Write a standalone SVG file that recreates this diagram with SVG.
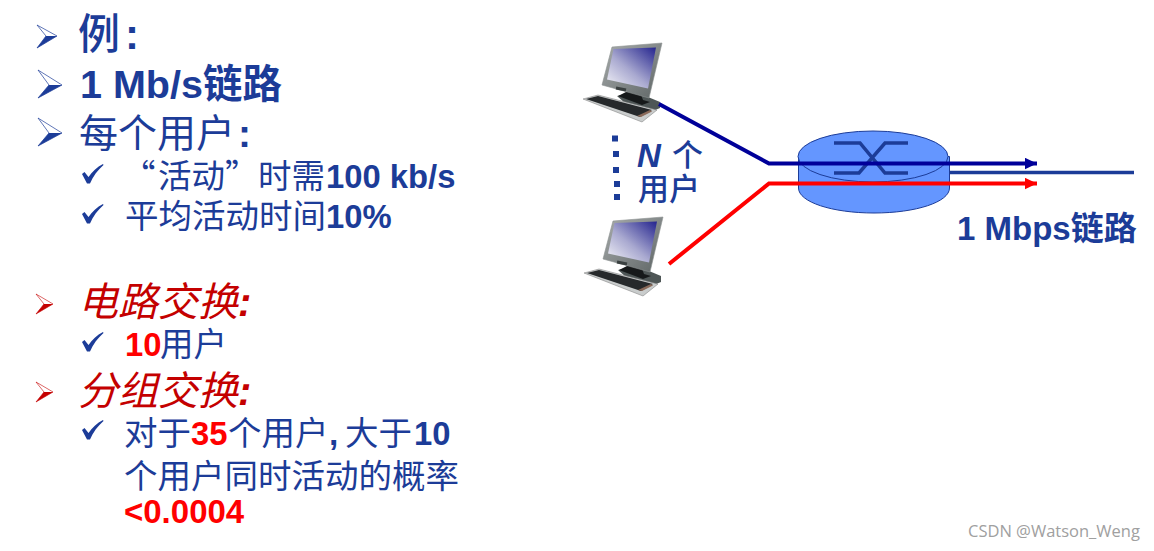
<svg xmlns="http://www.w3.org/2000/svg" xmlns:xlink="http://www.w3.org/1999/xlink" width="1154" height="551" viewBox="0 0 1154 551">
<style>
text{font-family:"Noto Sans CJK SC","Noto Sans",sans-serif;fill:#1c3c98;white-space:pre}
.b{font-family:"Liberation Sans","Noto Sans CJK SC",sans-serif;font-weight:700}
.m{font-weight:500}
.red{fill:#f00}
.dred{fill:#c40000;font-style:italic}
.s39{font-size:39px}
.s33{font-size:33.5px}
.l33{font-size:32.8px}
.s40{font-size:40px}
.conn{fill:none;stroke-width:4;stroke-linejoin:miter}
</style>
<defs>
<linearGradient id="scr" x1="1" y1="0" x2="0" y2="1"><stop offset="0" stop-color="#24248e"/><stop offset=".55" stop-color="#a9a9d0"/><stop offset="1" stop-color="#f4f4f8"/></linearGradient>
<linearGradient id="case" x1="0" y1="0" x2="1" y2="1"><stop offset="0" stop-color="#a9adad"/><stop offset="1" stop-color="#5f6666"/></linearGradient>
<marker id="ab" markerUnits="userSpaceOnUse" markerWidth="13" markerHeight="12" refX="12" refY="6" orient="auto"><path d="M0 .3L12 6L0 11.7Z" fill="#000099"/></marker>
<marker id="ar" markerUnits="userSpaceOnUse" markerWidth="13" markerHeight="12" refX="12" refY="6" orient="auto"><path d="M0 .3L12 6L0 11.7Z" fill="#f00"/></marker>
<path id="chk" d="M0 10L2.500 8L6.500 13C10 8 15 3 21 0L21.500 1C16 6 11 12 8 19.500L5 19.500Z" fill="#1c3c98"/>
<g id="pc">
<path d="M617 96L636 92L660 102L660 108L648 113L625 103Z" fill="#4e5656"/>
<path d="M618 96L630 90L640 92L643 100L650 102L642 105Z" fill="#16191a"/>
<path d="M612 47L662 43L649 98L602 85Z" fill="url(#case)" stroke="#8b9090" stroke-width=".6"/>
<path d="M613.500 49L656 47.500L648 88.500L607 79.500Z" fill="url(#scr)"/>
<path d="M616 88L626 90" stroke="#3a4040" stroke-width="3" fill="none"/>
<path d="M583 99L598 95L657 110L642 122Z" fill="#c9cccc" stroke="#777" stroke-width=".5"/>
<path d="M586 99L598 96L652 110L640 117Z" fill="#26292b"/>
<path d="M637 116L650 110L652 111.500L641 117Z" fill="#8a6a5a"/>
</g>
</defs>
<rect width="1154" height="551" fill="#fff"/>

<g id="bullets" fill="#1c3c98">
<g id="b1"><path d="M37 25L57 36L37 48L46 36Z" fill="#fff" stroke="#1c3c98" stroke-width=".7"/><path d="M46 36H57L37 48Z"/></g>
<g id="b2"><path d="M38 70L62 85L38 98L49 85Z" fill="#fff" stroke="#1c3c98" stroke-width=".7"/><path d="M49 85H62L38 98Z"/></g>
<g id="b3"><path d="M38 118L62 133L38 146L49 133Z" fill="#fff" stroke="#1c3c98" stroke-width=".7"/><path d="M49 133H62L38 146Z"/></g>
<g id="b4" fill="#c40000"><path d="M36 294L53 304L36 314L44 304Z" fill="#fff" stroke="#c40000" stroke-width=".6"/><path d="M44 304H53L36 314Z"/></g>
<g id="b5" fill="#c40000"><path d="M36 382L53 392L36 402L44 392Z" fill="#fff" stroke="#c40000" stroke-width=".6"/><path d="M44 392H53L36 402Z"/></g>
<use xlink:href="#chk" href="#chk" x="82" y="164"/>
<use xlink:href="#chk" href="#chk" x="82" y="204"/>
<use xlink:href="#chk" href="#chk" x="82" y="332"/>
<use xlink:href="#chk" href="#chk" x="82" y="420"/>
</g>

<g id="list">
<text class="m" x="78" y="49" font-size="42">例<tspan class="b" x="125">:</tspan></text>
<text class="b" x="80" y="98" font-size="39.500">1 Mb/s链路</text>
<text class="s39" x="79" y="147">每个用户<tspan class="b" x="238">:</tspan></text>
<text class="s33" x="122" y="188">“<tspan x="158">活动</tspan><tspan x="225">”</tspan><tspan x="258">时需</tspan><tspan class="b l33" x="326">100 kb/s</tspan></text>
<text class="s33" x="125" y="228">平均活动时间<tspan class="b l33" x="326">10%</tspan></text>
<text class="dred s40" x="78" y="316">电路交换<tspan class="b dred" x="238">:</tspan></text>
<text class="s33" x="125" y="356"><tspan class="b red l33">10</tspan><tspan x="160">用户</tspan></text>
<text class="dred s40" x="78" y="405">分组交换<tspan class="b dred" x="238">:</tspan></text>
<text class="s33" x="124" y="445">对于<tspan class="b red l33" x="191">35</tspan><tspan x="228">个用户</tspan><tspan class="b" x="329">,</tspan><tspan x="345">大于</tspan><tspan class="b l33" x="414">10</tspan></text>
<text class="s33" x="124" y="488">个用户同时活动的概率</text>
<text class="b red" x="124" y="523" font-size="33">&lt;0.0004</text>
</g>

<g id="pc1"><use xlink:href="#pc" href="#pc"/></g>
<g id="pc2"><use xlink:href="#pc" href="#pc" x="1" y="174"/></g>

<g id="router">
<path d="M798.500 156.500V188C798.500 202 832 213 874 213C916 213 949.500 202 949.500 188V156.500Z" fill="#6496ff" stroke="#1c3c98" stroke-width="1"/>
<ellipse cx="873" cy="156.500" rx="75" ry="25.500" fill="#6496ff" stroke="#1c3c98" stroke-width="1"/>
<path d="M834 143H860L885 173H908M834 173H859L885 143H908" fill="none" stroke="#1c3c98" stroke-width="3.500"/>
</g>

<g id="connectors">
<path d="M950 172.500H1134" fill="none" stroke="#1c3c98" stroke-width="3.500"/>
<path class="conn" d="M659 104L769 163.500H1037" stroke="#000099" marker-end="url(#ab)"/>
<path class="conn" d="M669 264L769 183.500H1037" stroke="#f00" marker-end="url(#ar)"/>
</g>

<g id="dots" fill="#1c3c98">
<rect x="612" y="135.500" width="6" height="6"/><rect x="613" y="151" width="6" height="6"/><rect x="613" y="167" width="6" height="6"/><rect x="614" y="181" width="6" height="6"/><rect x="614" y="194" width="6" height="6"/>
</g>

<g id="nlabel">
<text class="b" x="637" y="167" font-size="33" font-style="italic">N</text>
<text class="m" x="672" y="166" font-size="31">个</text>
<text class="m" x="638" y="200" font-size="31">用户</text>
</g>
<g id="linklabel"><text class="b" x="957" y="240" font-size="33">1 Mbps链路</text></g>
<text x="968" y="537" style="font-family:'Open Sans',sans-serif;fill:#a0a0a0" font-size="16.500">CSDN @Watson_Weng</text>
</svg>
